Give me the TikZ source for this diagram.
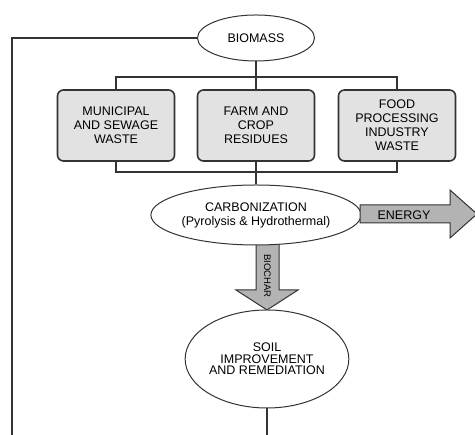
\documentclass[tikz,border=0pt]{standalone}
\usepackage{fontspec}
\setmainfont{Liberation Sans}
\usetikzlibrary{shapes.geometric}
\definecolor{BMLine}{HTML}{333333}
\definecolor{BMBox}{HTML}{E2E2E2}
\definecolor{BMArrow}{HTML}{B3B3B3}
\tikzset{
  bmellipse/.style={ellipse,draw=BMLine,line width=1pt,fill=white,inner sep=0pt,align=center,font=\fontsize{12.5}{14}\selectfont},
  bmbox/.style={rectangle,rounded corners=6pt,draw=BMLine,line width=1.6pt,fill=BMBox,minimum width=117pt,minimum height=71pt,inner sep=0pt,align=center,font=\fontsize{12.5}{14}\selectfont},
  bmlink/.style={draw=BMLine,line width=1.8pt},
  bmarrow/.style={draw=BMLine,line width=1pt,fill=BMArrow,line join=miter}
}
\begin{document}
\begin{tikzpicture}[x=1pt,y=1pt]
\path[use as bounding box,fill=white] (0,0) rectangle (475,435);
\node[bmellipse,minimum width=117pt,minimum height=46pt] (biomass) at (256,397) {BIOMASS};
\node[bmbox] (municipal) at (116,309.5) {MUNICIPAL\\AND SEWAGE\\WASTE};
\node[bmbox] (farm) at (256,309.5) {FARM AND\\CROP\\RESIDUES};
\node[bmbox] (food) at (397,309.5) {FOOD\\PROCESSING\\INDUSTRY\\WASTE};
\coordinate (topbar) at (256,358);
\coordinate (botbar) at (256,263);
\coordinate (loopend) at (12,0);
\coordinate (soilend) at (267,0);
\draw[bmlink] (biomass.south) -- (farm.north);
\draw[bmlink] (municipal.north) |- (topbar) -| (food.north);
\draw[bmlink] (municipal.south) |- (botbar) -| (food.south);
\draw[bmlink,line width=1.6pt] (biomass.west) -| (loopend);
\draw[bmarrow] (267,125) -- (298,145) -- (279,145) -- (279,192) -- (256,192) -- (256,145) -- (236,145) -- cycle;
\node[bmellipse,minimum width=208pt,minimum height=60pt] (carbon) at (256,220) {CARBONIZATION\\(Pyrolysis \& Hydrothermal)};
\draw[bmlink] (farm.south) -- (carbon.north);
\draw[bmarrow] (360,230) -- (450,230) -- (450,245) -- (477,221) -- (450,197) -- (450,212) -- (360,212) -- cycle;
\node[font=\fontsize{12.5}{14}\selectfont] (energy) at (404,220) {ENERGY};
\node[rotate=-90,font=\fontsize{9.5}{10}\selectfont] (biochar) at (267.5,159) {BIOCHAR};
\node[bmellipse,minimum width=141pt,minimum height=98pt,font=\fontsize{12.5}{11.5}\selectfont] (soil) at (267,76) {SOIL\\IMPROVEMENT\\AND REMEDIATION};
\draw[bmlink] (soil.south) -- (soilend);
\end{tikzpicture}
\end{document}
